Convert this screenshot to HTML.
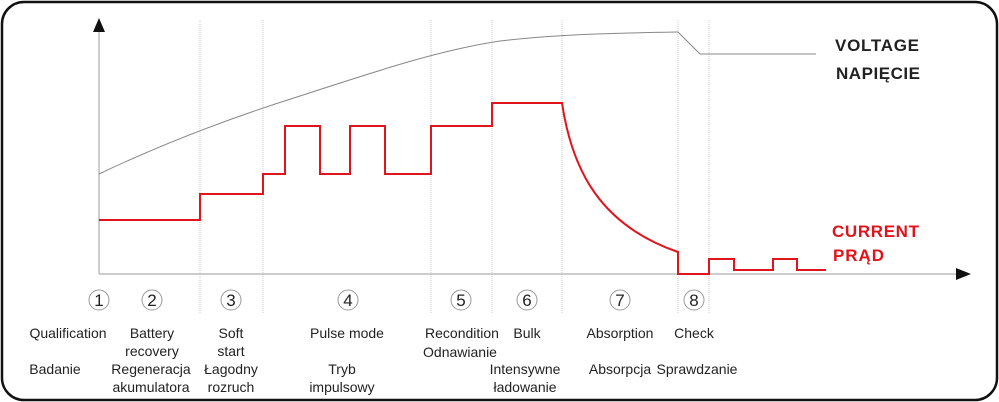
<!DOCTYPE html>
<html><head><meta charset="utf-8"><style>
body{margin:0;background:#fff;}
svg{display:block;font-family:"Liberation Sans",sans-serif;}
</style></head><body>
<svg width="999" height="402" viewBox="0 0 999 402">
<rect x="2" y="2" width="995" height="398" rx="22" fill="#fff" stroke="#111" stroke-width="2.5"/>
<g stroke="#ccc" stroke-width="1" stroke-dasharray="1,1">
<line x1="200" y1="20" x2="200" y2="314"/><line x1="263" y1="20" x2="263" y2="314"/>
<line x1="431" y1="20" x2="431" y2="314"/><line x1="492" y1="20" x2="492" y2="314"/>
<line x1="562" y1="20" x2="562" y2="314"/><line x1="678" y1="20" x2="678" y2="314"/>
<line x1="709" y1="20" x2="709" y2="314"/>
</g>
<line x1="99" y1="274" x2="99" y2="30" stroke="#bbb" stroke-width="1.5"/>
<line x1="99" y1="274" x2="960" y2="274" stroke="#bbb" stroke-width="1.5"/>
<polygon points="99,18 93,32 105,32" fill="#111"/>
<polygon points="971,274 956,268 956,280" fill="#111"/>
<path d="M99,174 C160,145 230,118 300,96 C380,70 440,50 500,41 C560,34 620,33 678,32 L700,54 L816,54" fill="none" stroke="#888" stroke-width="1"/>
<path d="M99,220 H200 V194 H263 V174 H285 V126 H320 V174 H350 V126 H385 V174 H431 V126 H492 V103 H562 C572,170 600,225 678,252 V274 H709 V259 H734 V270 H773 V259 H797 V270 H826" fill="none" stroke="#e0141c" stroke-width="2"/>
<g fill="#fff" stroke="#999" stroke-width="1">
<circle cx="99" cy="300" r="10"/><circle cx="152" cy="300" r="10"/><circle cx="231" cy="300" r="10"/><circle cx="348" cy="300" r="10"/><circle cx="461" cy="300" r="10"/><circle cx="527" cy="300" r="10"/><circle cx="620" cy="300" r="10"/><circle cx="694" cy="300" r="10"/>
</g>
<g font-size="17" fill="#222" text-anchor="middle">
<text x="99" y="306">1</text><text x="152" y="306">2</text><text x="231" y="306">3</text><text x="348" y="306">4</text><text x="461" y="306">5</text><text x="527" y="306">6</text><text x="620" y="306">7</text><text x="694" y="306">8</text>
</g>
<g font-size="14" fill="#222" text-anchor="middle">
<text x="68" y="338">Qualification</text>
<text x="152" y="338">Battery</text><text x="152" y="356">recovery</text>
<text x="231" y="338">Soft</text><text x="231" y="356">start</text>
<text x="347" y="338">Pulse mode</text>
<text x="462" y="338">Recondition</text><text x="460" y="357">Odnawianie</text>
<text x="527" y="338">Bulk</text>
<text x="620" y="338">Absorption</text>
<text x="694" y="338">Check</text>
<text x="55" y="374">Badanie</text>
<text x="151" y="374">Regeneracja</text><text x="151" y="392">akumulatora</text>
<text x="231" y="374">Łagodny</text><text x="231" y="392">rozruch</text>
<text x="342" y="374">Tryb</text><text x="342" y="392">impulsowy</text>
<text x="525" y="374">Intensywne</text><text x="525" y="392">ładowanie</text>
<text x="620" y="374">Absorpcja</text><text x="697" y="374">Sprawdzanie</text>
</g>
<g font-size="17" font-weight="bold" text-anchor="start">
<text x="835" y="51" fill="#222" textLength="84">VOLTAGE</text>
<text x="836" y="79" fill="#222" textLength="84">NAPIĘCIE</text>
<text x="832" y="237" fill="#e0141c" textLength="87">CURRENT</text>
<text x="833" y="261" fill="#e0141c" textLength="51">PRĄD</text>
</g>
</svg>
</body></html>
